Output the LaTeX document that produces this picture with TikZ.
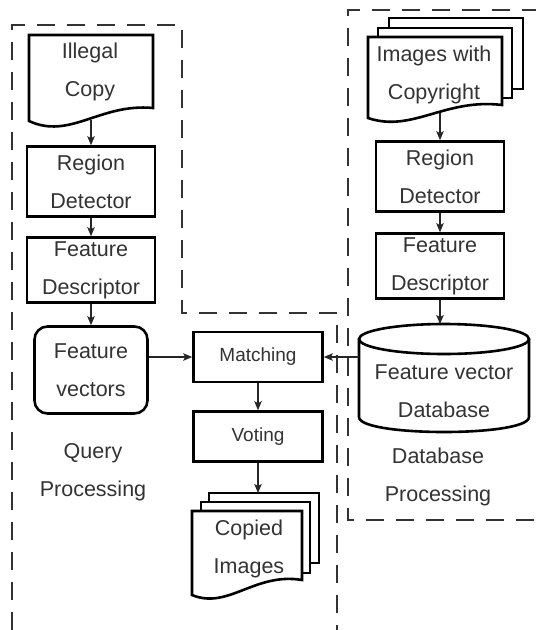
\documentclass[tikz,border=0pt]{standalone}
\usepackage{fontspec}
\setmainfont{Liberation Sans}
\usetikzlibrary{arrows.meta}
\begin{document}
\begin{tikzpicture}[x=1pt,y=-1pt,
  every node/.style={text=black!80, font=\fontsize{21.5}{38}\selectfont, align=center, inner sep=0pt},
  box/.style={draw=black, line width=2.6pt, fill=white},
  smalltext/.style={font=\fontsize{19}{38}\selectfont},
  arr/.style={draw=black!85, line width=1.1pt, -{Stealth[length=9pt,width=7.5pt,inset=2pt]}},
  region/.style={draw=black!80, line width=1.1pt, dash pattern=on 18pt off 12pt},
  page/.style={draw=black, line width=2.6pt, fill=white, line join=miter}
]
\useasboundingbox (0,0) rectangle (536,630);

% dashed outlines of the two processing stages
\draw[region] (12,630) -- (12,25) -- (182,25) -- (182,313) -- (337,313) -- (337,630);
\draw[region] (540,10) -- (348,10) -- (348,520) -- (540,520);

% query side
\draw[page] (29,35) -- (153,35) -- (153,108) .. controls (100,103) and (70,140) .. (29,121) -- cycle;
\node (ill) at (90,71.5) {Illegal\\Copy};
\coordinate (ill-b) at (91,120);
\node[box, minimum width=128pt, minimum height=70pt] (rdL) at (91,181.5) {Region\\Detector};
\node[box, minimum width=128pt, minimum height=65pt] (fdL) at (91,270) {Feature\\Descriptor};
\node[box, rounded corners=13pt, minimum width=113pt, minimum height=87pt] (fv) at (91,370) {Feature\\vectors};
\node (qp) at (93,472) {Query\\Processing};

% matching and voting
\node[box, smalltext, minimum width=129pt, minimum height=50pt] (match) at (258,357) {Matching};
\node[box, smalltext, minimum width=129pt, minimum height=50pt] (vote) at (258,436.5) {Voting};

\draw[page] (209,493) rectangle (319,563);
\draw[page] (201,502) rectangle (310,573);
\draw[page] (192,511) -- (302,511) -- (302,580) .. controls (255,572) and (228,610) .. (192,595) -- cycle;
\node (ci) at (249,549) {Copied\\Images};
\coordinate (ci-t) at (258,493);

% database side
\draw[page] (389,18) rectangle (523,89);
\draw[page] (378,28) rectangle (512,98);
\draw[page] (368,37) -- (502,37) -- (502,105) .. controls (445,98) and (412,133) .. (368,118) -- cycle;
\node (iwc) at (434,74.5) {Images with\\Copyright};
\coordinate (iwc-b) at (440,113);
\node[box, minimum width=128pt, minimum height=70pt] (rdR) at (440,176.5) {Region\\Detector};
\node[box, minimum width=128pt, minimum height=65pt] (fdR) at (440,266) {Feature\\Descriptor};

% database cylinder
\draw[page] (359,339) -- (359,417) .. controls (359,437) and (529,437) .. (529,417) -- (529,339);
\draw[page] (444,339) ellipse [x radius=85, y radius=15];
\node (db) at (444,391.5) {Feature vector\\Database};
\coordinate (db-t) at (440,324);
\coordinate (db-w) at (359,357);
\node (dp) at (438,477) {Database\\Processing};

% connectors
\draw[arr] (ill-b) -- (ill-b |- rdL.north);
\draw[arr] (rdL.south) -- (fdL.north);
\draw[arr] (fdL.south) -- (fv.north);
\draw[arr] (fv.east |- match.west) -- (match.west);
\draw[arr] (match.south) -- (vote.north);
\draw[arr] (vote.south) -- (ci-t);
\draw[arr] (iwc-b) -- (iwc-b |- rdR.north);
\draw[arr] (rdR.south) -- (fdR.north);
\draw[arr] (fdR.south) -- (db-t);
\draw[arr] (db-w) -- (match.east);
\end{tikzpicture}
\end{document}
